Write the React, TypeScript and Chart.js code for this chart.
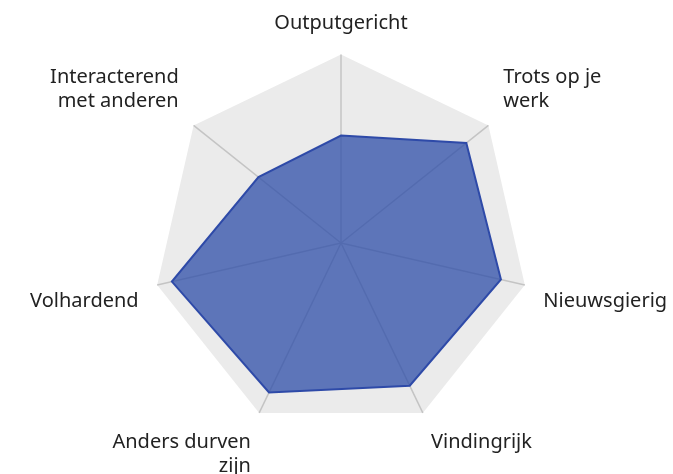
import React, { useEffect, useRef } from "react";
import { Chart, registerables } from "chart.js";

Chart.register(...registerables);

const categories: (string | string[])[] = [
  "Outputgericht",
  ["Trots op je", "werk"],
  "Nieuwsgierig",
  "Vindingrijk",
  ["Anders durven", "zijn"],
  "Volhardend",
  ["Interacterend", "met anderen"],
];
const scores = [57, 85, 87, 84, 88, 92, 56];
const scaleMax = 100;

export default function App() {
  const ref = useRef<HTMLCanvasElement | null>(null);
  useEffect(() => {
    if (!ref.current) return;
    const chart = new Chart(ref.current, {
      type: "radar",
      data: {
        labels: categories,
        datasets: [
          {
            data: scores,
            backgroundColor: "rgba(46,77,168,0.75)",
            borderColor: "#2e4aa8",
            borderWidth: 2,
            pointRadius: 0,
            pointHoverRadius: 0,
          },
        ],
      },
      options: {
        animation: false,
        responsive: false,
        maintainAspectRatio: false,
        layout: { padding: { top: 4, bottom: 0, left: 10, right: 0 } },
        plugins: { legend: { display: false }, tooltip: { enabled: false } },
        scales: {
          r: {
            min: 0,
            max: scaleMax,
            backgroundColor: "#ebebeb",
            ticks: { display: false },
            grid: { display: false },
            angleLines: { color: "#c4c4c4", lineWidth: 1.5 },
            pointLabels: {
              color: "#222222",
              font: { family: "'Noto Sans', sans-serif", size: 20, lineHeight: 1.2 },
              padding: 19,
            },
          },
        },
      },
    });
    return () => chart.destroy();
  }, []);
  return (
    <div
      style={{
        position: "fixed",
        left: 0,
        top: 0,
        width: 673,
        height: 474,
        overflow: "hidden",
        background: "#fff",
      }}
    >
      <canvas
        ref={ref}
        width={673}
        height={474}
        style={{ position: "absolute", left: 8, top: 6 }}
      />
    </div>
  );
}
